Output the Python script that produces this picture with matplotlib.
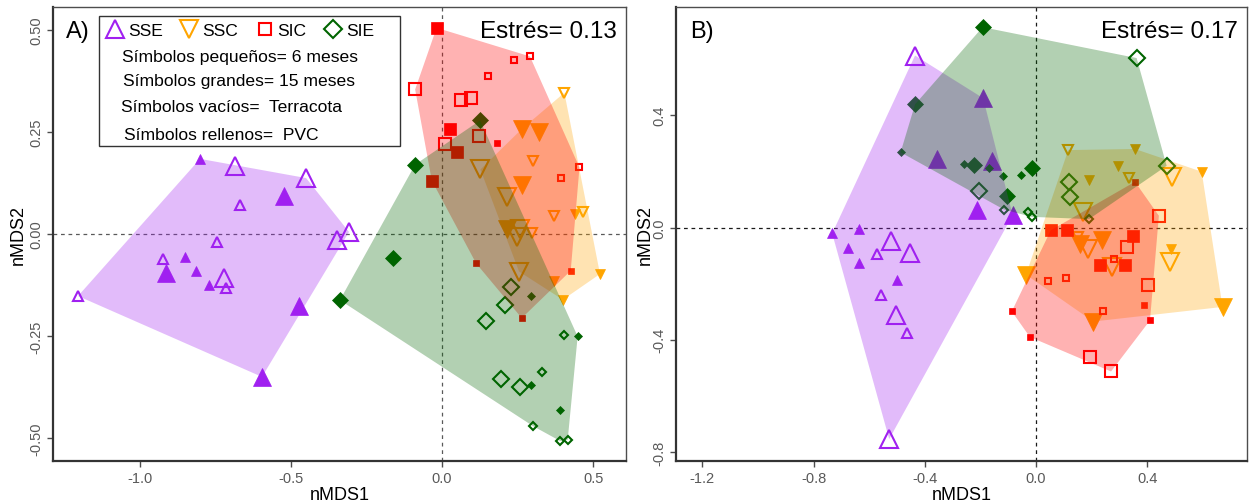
import numpy as np
import matplotlib
matplotlib.use('Agg')
import matplotlib.pyplot as plt
from matplotlib.lines import Line2D
from matplotlib.patches import Rectangle

plt.rcParams['font.family'] = ['Liberation Sans', 'DejaVu Sans']

# kind: s = small (6 meses), l = large (15 meses); o = open (terracota), f = filled (PVC)
# ---- Panel A ----
a_sse_x = [-0.801, -0.685, -0.450, -0.523, -0.669, -0.308, -0.348, -0.745, -0.924,
           -0.851, -0.914, -0.815, -0.722, -0.771, -0.715, -1.205, -0.473, -0.596]
a_sse_y = [0.184, 0.167, 0.137, 0.093, 0.071, 0.005, -0.015, -0.020, -0.061,
           -0.056, -0.096, -0.091, -0.108, -0.125, -0.132, -0.152, -0.176, -0.350]
a_sse_k = ['sf', 'lo', 'lo', 'lf', 'so', 'lo', 'lo', 'so', 'so',
           'sf', 'lf', 'sf', 'lo', 'sf', 'so', 'so', 'lf', 'lf']

a_ssc_x = [0.405, 0.264, 0.322, 0.302, 0.127, 0.264, 0.214, 0.371, 0.439,
           0.466, 0.215, 0.258, 0.247, 0.297, 0.255, 0.372, 0.400, 0.523]
a_ssc_y = [0.346, 0.257, 0.249, 0.178, 0.158, 0.120, 0.090, 0.045, 0.049,
           0.055, 0.012, 0.011, -0.008, 0.002, -0.092, -0.114, -0.161, -0.098]
a_ssc_k = ['so', 'lf', 'lf', 'so', 'lo', 'lf', 'lo', 'so', 'sf',
           'so', 'lf', 'lo', 'lo', 'so', 'lo', 'sf', 'sf', 'sf']

a_sic_x = [-0.018, 0.291, 0.238, 0.151, -0.089, 0.095, 0.062, 0.026, 0.124,
           0.183, 0.010, 0.049, -0.034, 0.455, 0.394, 0.113, 0.426, 0.264]
a_sic_y = [0.505, 0.435, 0.426, 0.386, 0.354, 0.333, 0.327, 0.257, 0.239,
           0.222, 0.221, 0.200, 0.131, 0.163, 0.136, -0.072, -0.090, -0.206]
a_sic_k = ['lf', 'so', 'so', 'so', 'lo', 'lo', 'lo', 'lf', 'lo',
           'sf', 'lo', 'lf', 'lf', 'so', 'so', 'sf', 'sf', 'sf']

a_sie_x = [-0.089, 0.126, -0.161, -0.338, 0.228, 0.294, 0.209, 0.146, 0.405,
           0.449, 0.330, 0.194, 0.258, 0.294, 0.391, 0.300, 0.391, 0.416]
a_sie_y = [0.170, 0.278, -0.060, -0.162, -0.129, -0.153, -0.173, -0.212, -0.247,
           -0.251, -0.337, -0.354, -0.376, -0.370, -0.431, -0.470, -0.507, -0.504]
a_sie_k = ['lf', 'lf', 'lf', 'lf', 'lo', 'sf', 'lo', 'lo', 'so',
           'sf', 'so', 'lo', 'lo', 'sf', 'sf', 'so', 'so', 'so']

# ---- Panel B ----
b_sse_x = [-0.435, -0.357, -0.190, -0.157, -0.213, -0.084, -0.733, -0.637, -0.523,
           -0.675, -0.573, -0.453, -0.636, -0.499, -0.559, -0.504, -0.465, -0.528]
b_sse_y = [0.613, 0.244, 0.461, 0.238, 0.064, 0.044, -0.021, -0.004, -0.049,
           -0.073, -0.093, -0.089, -0.125, -0.186, -0.242, -0.310, -0.375, -0.754]
b_sse_k = ['lo', 'lf', 'lf', 'lf', 'lf', 'lf', 'sf', 'sf', 'lo',
           'sf', 'so', 'lo', 'sf', 'sf', 'so', 'lo', 'so', 'lo']

b_ssc_x = [0.116, 0.356, 0.296, 0.192, 0.336, 0.596, 0.488, 0.170, 0.152,
           0.158, 0.236, 0.188, 0.484, 0.482, 0.272, -0.036, 0.206, 0.671]
b_ssc_y = [0.276, 0.280, 0.219, 0.169, 0.175, 0.199, 0.181, 0.056, -0.033,
           -0.057, -0.045, -0.075, -0.075, -0.123, -0.140, -0.168, -0.335, -0.283]
b_ssc_k = ['so', 'sf', 'sf', 'sf', 'so', 'sf', 'lo', 'lo', 'so',
           'lf', 'lf', 'lo', 'sf', 'lo', 'lo', 'lf', 'lf', 'lf']

b_sic_x = [0.356, 0.442, 0.053, 0.113, 0.348, 0.326, 0.230, 0.281, 0.320, 0.044,
           0.107, 0.402, 0.388, 0.240, 0.410, -0.087, -0.022, 0.194, 0.270]
b_sic_y = [0.163, 0.042, -0.010, -0.010, -0.030, -0.069, -0.135, -0.111, -0.135, -0.192,
           -0.179, -0.206, -0.277, -0.299, -0.331, -0.299, -0.390, -0.462, -0.513]
b_sic_k = ['sf', 'lo', 'lf', 'lf', 'lf', 'lo', 'lf', 'so', 'lf', 'so',
           'so', 'lo', 'sf', 'so', 'sf', 'sf', 'sf', 'lo', 'lo']

b_sie_x = [-0.192, 0.362, 0.470, -0.435, -0.487, -0.223, -0.259, -0.169, -0.118, -0.055,
           -0.015, -0.205, -0.105, -0.115, -0.030, -0.015, 0.119, 0.122, 0.191]
b_sie_y = [0.714, 0.604, 0.220, 0.439, 0.268, 0.223, 0.225, 0.213, 0.183, 0.187,
           0.211, 0.131, 0.112, 0.064, 0.056, 0.038, 0.161, 0.110, 0.030]
b_sie_k = ['lf', 'lo', 'lo', 'lf', 'sf', 'lf', 'sf', 'sf', 'sf', 'sf',
           'lf', 'lo', 'lf', 'so', 'so', 'so', 'lo', 'lo', 'so']

grupos = ['SSE', 'SSC', 'SIC', 'SIE']
colores = {'SSE': '#A020F0', 'SSC': '#FFA500', 'SIC': '#FF0000', 'SIE': '#006400'}
marcadores = {'SSE': '^', 'SSC': 'v', 'SIC': 's', 'SIE': 'D'}
tamanos = {'^': (7, 12.5), 'v': (7, 12.5), 's': (5, 9), 'D': (4.5, 8)}


def convex_hull(xs, ys):
    pts = sorted(set(zip(xs, ys)))

    def cross(o, a, b):
        return (a[0] - o[0]) * (b[1] - o[1]) - (a[1] - o[1]) * (b[0] - o[0])

    lower, upper = [], []
    for p in pts:
        while len(lower) >= 2 and cross(lower[-2], lower[-1], p) <= 0:
            lower.pop()
        lower.append(p)
    for p in reversed(pts):
        while len(upper) >= 2 and cross(upper[-2], upper[-1], p) <= 0:
            upper.pop()
        upper.append(p)
    h = np.array(lower[:-1] + upper[:-1])
    return h[:, 0], h[:, 1]


def dibujar_panel(ax, datos):
    # puntos primero, luego los poligonos semitransparentes encima
    for g in grupos:
        xs, ys, ks = datos[g]
        m = marcadores[g]
        c = colores[g]
        for x, y, k in zip(xs, ys, ks):
            ms = tamanos[m][1] if k[0] == 'l' else tamanos[m][0]
            if k[1] == 'f':
                ax.plot(x, y, ls='none', marker=m, ms=ms, mfc=c, mec=c, mew=0.5, zorder=2)
            else:
                ax.plot(x, y, ls='none', marker=m, ms=ms, mfc='none', mec=c, mew=1.5, zorder=2)
    for g in grupos:
        xs, ys, ks = datos[g]
        hx, hy = convex_hull(xs, ys)
        ax.fill(hx, hy, color=colores[g], alpha=0.3, lw=0, zorder=3)


def estilo_ejes(ax, xt, xtl, yt, ytl, lc, ylab_x):
    ax.axhline(0, color=lc, lw=0.9, ls=(0, (3, 3)), zorder=1)
    ax.axvline(0, color=lc, lw=0.9, ls=(0, (3, 3)), zorder=1)
    ax.set_xticks(xt)
    ax.set_xticklabels(xtl)
    ax.set_yticks(yt)
    ax.set_yticklabels(ytl, rotation=90, va='center')
    ax.tick_params(direction='out', length=4, width=1, color='0.3', labelcolor='0.35',
                   labelsize=10.5, pad=3)
    for s in ax.spines.values():
        s.set_color('0.3')
        s.set_linewidth(1.0)
    ax.spines['left'].set_linewidth(1.6)
    ax.spines['bottom'].set_linewidth(1.6)
    ax.spines['left'].set_color('0.2')
    ax.spines['bottom'].set_color('0.2')
    ax.set_xlabel('nMDS1', fontsize=13)
    ax.set_ylabel('nMDS2', fontsize=13)
    ax.xaxis.set_label_coords(0.5, -0.073)
    ax.xaxis.label.set_va('center')
    ax.yaxis.set_label_coords(ylab_x, 0.5)
    ax.yaxis.label.set_va('center')


fig = plt.figure(figsize=(12.49, 5.02), dpi=100)
ax1 = fig.add_axes([0.0424, 0.0797, 0.4588, 0.9044])
ax2 = fig.add_axes([0.5412, 0.0797, 0.4572, 0.9044])

datos_a = {'SSE': (a_sse_x, a_sse_y, a_sse_k), 'SSC': (a_ssc_x, a_ssc_y, a_ssc_k),
           'SIC': (a_sic_x, a_sic_y, a_sic_k), 'SIE': (a_sie_x, a_sie_y, a_sie_k)}
datos_b = {'SSE': (b_sse_x, b_sse_y, b_sse_k), 'SSC': (b_ssc_x, b_ssc_y, b_ssc_k),
           'SIC': (b_sic_x, b_sic_y, b_sic_k), 'SIE': (b_sie_x, b_sie_y, b_sie_k)}

dibujar_panel(ax1, datos_a)
dibujar_panel(ax2, datos_b)

ax1.set_xlim(-1.288, 0.609)
ax1.set_ylim(-0.556, 0.556)
ax2.set_xlim(-1.295, 0.759)
ax2.set_ylim(-0.832, 0.786)

estilo_ejes(ax1, [-1.0, -0.5, 0.0, 0.5], ['-1.0', '-0.5', '0.0', '0.5'],
            [-0.5, -0.25, 0.0, 0.25, 0.5], ['-0.50', '-0.25', '0.00', '0.25', '0.50'],
            '0.35', -0.061)
estilo_ejes(ax2, [-1.2, -0.8, -0.4, 0.0, 0.4], ['-1.2', '-0.8', '-0.4', '0.0', '0.4'],
            [-0.8, -0.4, 0.0, 0.4], ['-0.8', '-0.4', '0.0', '0.4'],
            '0.1', -0.054)

# rotulos de panel y estres
ax1.text(0.0436, 0.947, 'A)', transform=ax1.transAxes, ha='center', va='center', fontsize=17)
ax2.text(0.0455, 0.947, 'B)', transform=ax2.transAxes, ha='center', va='center', fontsize=17)
ax1.text(0.984, 0.947, 'Estrés= 0.13', transform=ax1.transAxes, ha='right', va='center', fontsize=17.5)
ax2.text(0.984, 0.947, 'Estrés= 0.17', transform=ax2.transAxes, ha='right', va='center', fontsize=17.5)

# leyenda del panel A
ax1.add_patch(Rectangle((0.080, 0.694), 0.525, 0.286, transform=ax1.transAxes,
                        facecolor='white', edgecolor='0.2', lw=1.0, zorder=5))
handles = [Line2D([], [], ls='none', marker=marcadores[g], ms=(12.5 if marcadores[g] in '^v' else 9),
                  mfc='none', mec=colores[g], mew=1.5) for g in grupos]
leg = ax1.legend(handles, grupos, ncol=4, loc='center left', bbox_to_anchor=(0.093, 0.949),
                 frameon=False, fontsize=12.6, handlelength=1.0, handletextpad=0.25,
                 columnspacing=1.0, borderpad=0, borderaxespad=0)
leg.set_zorder(6)
lineas = ['Símbolos pequeños= 6 meses', 'Símbolos grandes= 15 meses',
          'Símbolos vacíos=  Terracota', 'Símbolos rellenos=  PVC']
pos_x = [0.120, 0.122, 0.119, 0.124]
pos_y = [0.892, 0.837, 0.780, 0.720]
for t, px, py in zip(lineas, pos_x, pos_y):
    ax1.text(px, py, t, transform=ax1.transAxes, ha='left', va='center', fontsize=12.6, zorder=6)

plt.savefig('out.png', dpi=100)
